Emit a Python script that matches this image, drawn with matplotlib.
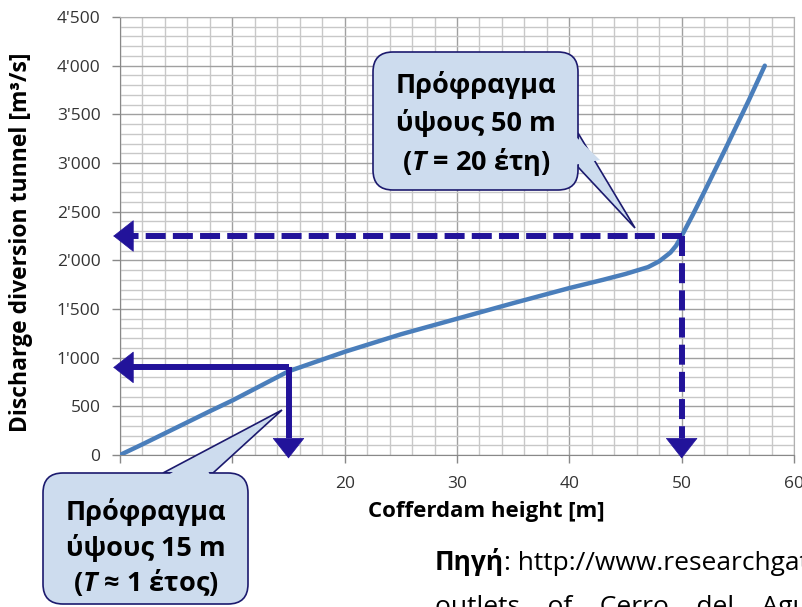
import matplotlib
matplotlib.use("Agg")
import matplotlib.pyplot as plt
import matplotlib.ticker as mticker
from matplotlib.patches import FancyBboxPatch, Polygon

# curve
heights = [0, 2, 5, 8, 10, 12, 15, 18, 20, 25, 30, 35, 40, 43, 45, 47, 48, 49, 49.5,
           50, 51, 52, 54, 56, 57.4]
discharge = [0, 110, 280, 450, 560, 680, 860, 980, 1060, 1240, 1400, 1560, 1715, 1800,
             1860, 1930, 1990, 2080, 2150, 2250, 2470, 2700, 3170, 3650, 4000]

# the two design cases
case_heights = [15, 50]
case_discharge = [900, 2250]

callout_small = ["Πρόφραγμα", "ύψους 15 m", r"($\mathbfit{T}$ ≈ 1 έτος)"]
callout_big = ["Πρόφραγμα", "ύψους 50 m", r"($\mathbfit{T}$ = 20 έτη)"]

plt.rcParams['font.family'] = ['Open Sans', 'DejaVu Sans']
plt.rcParams['mathtext.fontset'] = 'custom'
plt.rcParams['mathtext.bfit'] = 'Open Sans:italic:bold'

navy = '#22139a'
box_fc = '#cddcee'
box_ec = '#1c1a6e'

fig = plt.figure(figsize=(8.02, 6.07), dpi=100)
ax = fig.add_axes([120 / 802, 1 - 455 / 607, 674 / 802, 438 / 607])

ax.plot(heights, discharge, color='#4a7ebb', lw=3.2, solid_capstyle='round', zorder=3)

ax.set_xlim(0, 60)
ax.set_ylim(0, 4500)
ax.xaxis.set_major_locator(mticker.MultipleLocator(10))
ax.xaxis.set_minor_locator(mticker.MultipleLocator(2))
ax.yaxis.set_major_locator(mticker.MultipleLocator(500))
ax.yaxis.set_minor_locator(mticker.MultipleLocator(100))
ax.yaxis.set_major_formatter(mticker.FuncFormatter(lambda v, p: f"{int(v):,}".replace(",", "'")))
ax.grid(which='major', color='#a0a0a0', lw=1.0)
ax.grid(which='minor', color='#c8c8c8', lw=1.0)
ax.set_axisbelow(True)
ax.tick_params(which='major', length=6, width=1, color='#888888', labelsize=12.5,
               labelcolor='#333333', pad=8)
ax.tick_params(which='minor', length=0)
ax.tick_params(axis='x', pad=9)
for s in ['left', 'bottom']:
    ax.spines[s].set_color('#888888')
for s in ['top', 'right']:
    ax.spines[s].set_color('#b0b0b0')

ax.set_xlabel('Cofferdam height [m]', fontsize=16, fontweight='bold')
ax.set_ylabel('Discharge diversion tunnel [m³/s]', fontsize=16.5, fontweight='bold')
ax.xaxis.set_label_coords(366 / 674, -0.105)
ax.yaxis.set_label_coords(-0.129, 0.486)

# arrows: lines first, then heads
hx, hy = case_heights[0], case_discharge[0]
dx, dy = case_heights[1], case_discharge[1]
ax.plot([hx, 1.1], [hy, hy], color=navy, lw=4.3, solid_capstyle='butt', clip_on=False, zorder=4)
ax.plot([hx, hx], [hy, 170], color=navy, lw=4.3, solid_capstyle='butt', clip_on=False, zorder=4)
ax.plot([dx, 1.1], [dy, dy], color=navy, lw=4.3, dashes=(3.35, 1.2), clip_on=False, zorder=4)
ax.plot([dx, dx], [dy, 170], color=navy, lw=4.3, dashes=(3.35, 1.2), clip_on=False, zorder=4)

head = dict(arrowstyle='-|>,head_length=1.4,head_width=1.1', mutation_scale=10,
            color=navy, lw=0.5, shrinkA=0, shrinkB=0)
for yy in [hy, dy]:
    ax.annotate('', xy=(-0.6, yy), xytext=(14, 0), textcoords='offset points',
                arrowprops=head, annotation_clip=False, zorder=5)
for xx in [hx, dx]:
    ax.annotate('', xy=(xx, -35), xytext=(0, 14), textcoords='offset points',
                arrowprops=head, annotation_clip=False, zorder=5)


def callout(x0, y0, x1, y1, tail, cover, lines, line_y, cx):
    # pixel coordinates, top-left origin -> inches
    tr = fig.dpi_scale_trans
    def P(p):
        return (p[0] / 100, (607 - p[1]) / 100)
    t = Polygon([P(p) for p in tail], closed=True, fc=box_fc, ec=box_ec, lw=1.2,
                transform=tr, zorder=10)
    fig.add_artist(t)
    bx = FancyBboxPatch(P((x0, y1)), (x1 - x0) / 100, (y1 - y0) / 100,
                        boxstyle='round,pad=0,rounding_size=0.2', fc=box_fc, ec=box_ec,
                        lw=1.2, transform=tr, zorder=11)
    fig.add_artist(bx)
    c = Polygon([P(p) for p in cover], closed=True, fc=box_fc, ec='none',
                transform=tr, zorder=12)
    fig.add_artist(c)
    for s, ly in zip(lines, line_y):
        fig.text(cx / 802, 1 - ly / 607, s, ha='center', va='center', fontsize=19.5,
                 fontweight='bold', color='black', zorder=13)


callout(373, 52, 578, 190,
        [(578, 133), (635, 228), (578, 167)],
        [(574, 135), (600, 160), (574, 165)],
        callout_big, [85, 123, 162], 476)
callout(43, 473, 248, 604,
        [(163, 473), (282, 410), (213, 473)],
        [(165, 477), (200, 455), (211, 477)],
        callout_small, [512, 548, 583], 146)

src = fig.text(435 / 802, 1 - 570 / 607, "Πηγή", fontsize=19, fontweight='bold',
               va='baseline')
fig.canvas.draw()
bb = src.get_window_extent(fig.canvas.get_renderer())
fig.text(bb.x1 / 802, 1 - 570 / 607, ": http://www.researchgate.net/publication/Diversion",
         fontsize=19, va='baseline')
fig.text(435 / 802, 1 - 614 / 607, "outlets    of    Cerro    del    Aguila    hydropower",
         fontsize=19, va='baseline')

fig.savefig('out.png', dpi=100)
